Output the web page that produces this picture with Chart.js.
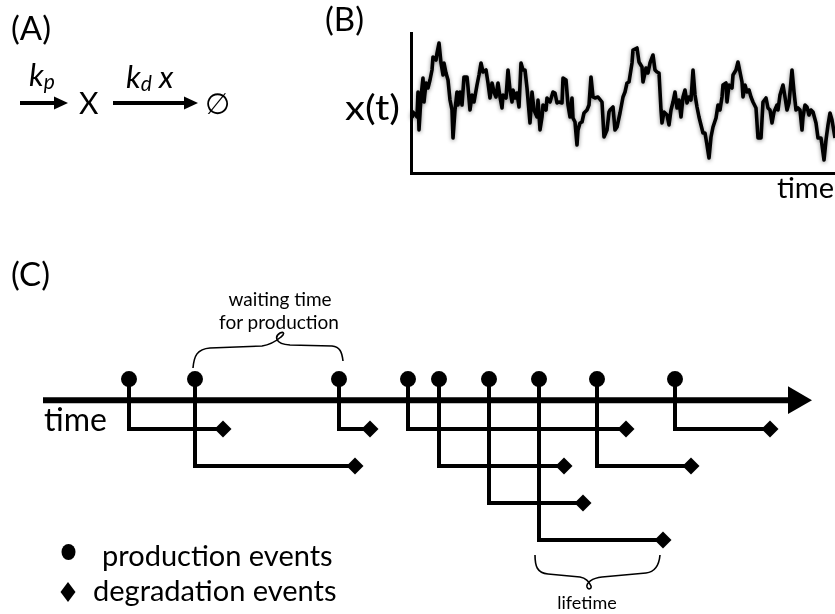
<!DOCTYPE html>
<html><head><meta charset="utf-8">
<script src="https://cdn.jsdelivr.net/npm/chart.js@4/dist/chart.umd.min.js"></script>
<style>
html,body{margin:0;padding:0;background:#fff;}
#wrap{position:relative;width:835px;height:614px;overflow:hidden;background:#fff;}
canvas{position:absolute;left:0;top:0;}
svg{position:absolute;left:0;top:0;}
svg text{font-family:Lato,'Open Sans','DejaVu Sans',sans-serif;fill:#000;}
</style></head><body>
<div id="wrap">
<canvas id="cB" width="835" height="614" style="width:835px;height:614px"></canvas>
<canvas id="cC" width="835" height="614" style="width:835px;height:614px"></canvas>
<svg id="ov" width="835" height="614" xmlns="http://www.w3.org/2000/svg">
  <!-- panel labels -->
  <text x="11" y="40" font-size="33">(A)</text>
  <text x="325" y="31" font-size="33">(B)</text>
  <text x="11" y="286" font-size="33">(C)</text>
  <!-- panel A reaction -->
  <text x="29" y="86" font-size="31" font-style="italic">k<tspan font-size="21" dy="3">p</tspan></text>
  <line x1="20" y1="103" x2="58" y2="103" stroke="#000" stroke-width="4"/>
  <polygon points="54,96.5 68,103 54,109.5" fill="#000"/>
  <text x="79" y="114" font-size="30">X</text>
  <text x="126" y="88" font-size="31" font-style="italic">k<tspan font-size="21" dy="3">d</tspan><tspan font-size="31" dy="-3"> x</tspan></text>
  <line x1="113" y1="103" x2="188" y2="103" stroke="#000" stroke-width="4"/>
  <polygon points="184,96.5 198,103 184,109.5" fill="#000"/>
  <text x="205" y="114" font-size="29" style="font-family:'DejaVu Sans',sans-serif">∅</text>
  <!-- panel B labels -->
  <text x="345" y="120" font-size="34" textLength="55" lengthAdjust="spacingAndGlyphs">x(t)</text>
  <text x="834" y="198" font-size="29" text-anchor="end">time</text>
  <!-- panel C labels -->
  <text x="44" y="431" font-size="32">time</text>
  <text x="280" y="306" font-size="19" text-anchor="middle">waiting time</text>
  <text x="279" y="329" font-size="19" text-anchor="middle">for production</text>
  <path d="M193,368 C194,356 197,349 210,348 L262,346 C269,345 275,342 281,337 C285,334 284,331 280,333 C275,336 274,344 290,345 L332,346 C340,347 342,352 343,361" fill="none" stroke="#000" stroke-width="1.6"/>
  <path d="M535,555 C535,566 537,573 548,574 L580,577 C585,578 589,581 591,586 C592,589 588,590 587,587 C586,583 592,578 602,577 L646,573 C655,572 659,566 660,555" fill="none" stroke="#000" stroke-width="1.6"/>
  <text x="587" y="609" font-size="18" text-anchor="middle">lifetime</text>
  <!-- legend -->
  <ellipse cx="68.5" cy="552" rx="7" ry="8" fill="#000"/>
  <polygon points="68,582 75.5,592 68,602 60.5,592" fill="#000"/>
  <text x="102" y="566" font-size="29">production events</text>
  <text x="93" y="601" font-size="29">degradation events</text>
</svg>
</div>
<script>
// ---- Panel B: stochastic trajectory x(t) ----
const seriesTime = [1,2,6,7,8,10,12,13,15,17,19,21,22,25,26,28,30,32,33,35,37,39,41,42,44,46,47,49,51,53,56,57,59,61,63,66,68,70,72,75,77,79,81,83,85,87,89,91,92,95,97,99,101,102,104,106,108,110,112,114,116,119,121,123,126,127,129,131,132,135,136,139,142,144,146,148,151,152,155,157,159,161,162,164,166,167,169,171,173,176,178,180,182,184,187,191,193,196,198,
199,202,204,206,209,212,214,216,218,221,222,226,228,231,232,235,237,239,242,244,246,248,250,251,253,256,258,260,262,264,266,268,270,272,274,276,278,280,282,284,286,288,290,292,294,296,298,300,302,305,307,309,311,312,315,316,318,321,322,325,327,329,331,332,334,336,338,340,342,345,347,350,352,355,357,359,361,363,366,367,369,372,374,376,378,381,383,385,387,389,391,392,394,396,398,400,402,405,407,410,411,413,415,417,419,421,424];
const seriesCount = [55,61,56,81,43,76,95,71,90,85,93,103,116,113,120,130,110,98,110,100,93,73,63,35,63,81,68,81,68,96,96,86,63,78,71,88,98,110,101,103,90,75,90,81,76,90,76,65,78,75,103,83,71,83,75,80,66,110,103,103,85,50,81,63,56,73,43,56,68,63,75,71,81,80,70,71,70,95,93,68,56,75,55,51,28,43,50,51,60,63,68,96,76,75,76,71,36,43,61,
63,66,43,46,60,76,81,90,91,110,123,125,111,106,91,105,100,110,118,103,101,100,63,50,61,58,48,63,71,81,65,73,56,76,83,70,76,73,103,78,66,56,48,40,40,28,15,36,46,55,68,63,76,88,90,71,88,85,98,103,111,101,91,76,88,81,83,76,71,65,35,35,71,75,65,63,50,61,68,63,78,88,76,63,70,103,81,63,65,63,43,56,68,66,58,63,61,50,35,35,28,13,33,48,60,53,35];

// ---- Panel C: production / degradation events ----
const productionTimes  = [8.6, 15.2, 29.6, 36.5, 39.6, 44.6, 49.6, 55.4, 63.2];
const degradationTimes = [18.0, 31.2, 32.7, 58.3, 52.1, 54.0, 62.0, 64.8, 72.7];
const moleculeLane     = [1, 2, 1, 1, 2, 3, 4, 2, 1];
const eventLevel = -0.35;     // level of production markers above the time axis
const axisLevel = 0.22;       // level of the time axis
const timeAxisRange = [0, 75.3];

const shadowPlugin = {
  id: 'softShadow',
  beforeDatasetsDraw(chart) { const c = chart.ctx; c.save(); c.shadowColor = 'rgba(0,0,0,0.45)'; c.shadowBlur = 4; c.shadowOffsetY = 1; },
  afterDatasetsDraw(chart) { chart.ctx.restore(); }
};

const hiddenTicks = { display: false };
new Chart(document.getElementById('cB'), {
  type: 'line',
  data: {
    datasets: [{
      data: seriesTime.map((t, i) => ({ x: t, y: seriesCount[i] })),
      borderColor: '#000', borderWidth: 3.6, pointRadius: 0, tension: 0,
      borderJoinStyle: 'round', clip: false
    }]
  },
  options: {
    responsive: false, animation: false, events: [],
    layout: { padding: { left: 411, right: 0, top: 33, bottom: 441 } },
    plugins: { legend: { display: false }, tooltip: { enabled: false } },
    scales: {
      x: { type: 'linear', min: 0, max: 424, ticks: hiddenTicks,
           grid: { display: false, drawTicks: false }, border: { display: true, color: '#000', width: 3 } },
      y: { type: 'linear', min: 0, max: 140, ticks: hiddenTicks,
           grid: { display: false, drawTicks: false }, border: { display: true, color: '#000', width: 3 } }
    }
  },
  plugins: [shadowPlugin]
});

const cDatasets = [];
productionTimes.forEach((p, i) => {
  cDatasets.push({
    data: [{ x: p, y: eventLevel }, { x: p, y: moleculeLane[i] }, { x: degradationTimes[i], y: moleculeLane[i] }],
    borderColor: '#000', borderWidth: 4, borderJoinStyle: 'miter', borderCapStyle: 'butt',
    pointRadius: [8, 0, 8.5], pointStyle: ['circle', 'circle', 'rectRot'],
    pointBackgroundColor: '#000', pointBorderWidth: 0, tension: 0, clip: false
  });
});
cDatasets.push({
  data: [{ x: timeAxisRange[0], y: axisLevel }, { x: timeAxisRange[1], y: axisLevel }],
  borderColor: '#000', borderWidth: 6, borderCapStyle: 'butt',
  pointRadius: [0, 16], pointStyle: 'triangle', pointRotation: 90,
  pointBackgroundColor: '#000', pointBorderWidth: 0, clip: false
});

new Chart(document.getElementById('cC'), {
  type: 'line',
  data: { datasets: cDatasets },
  options: {
    responsive: false, animation: false, events: [],
    layout: { padding: { left: 43, right: 23, top: 355, bottom: 37 } },
    plugins: { legend: { display: false }, tooltip: { enabled: false } },
    scales: {
      x: { type: 'linear', display: false, min: 0, max: 76.9 },
      y: { type: 'linear', display: false, reverse: true, min: -1, max: 5 }
    }
  }
});
</script>
</body></html>
